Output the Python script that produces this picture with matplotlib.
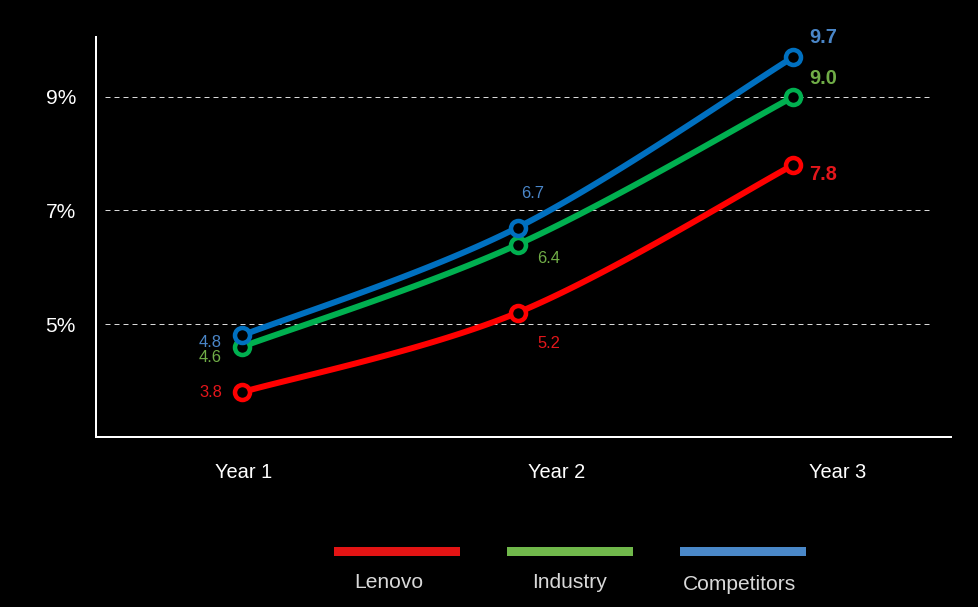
import numpy as np
import matplotlib
matplotlib.use("Agg")
import matplotlib.pyplot as plt
from matplotlib.patches import Rectangle

plt.rcParams['font.family'] = ['Liberation Sans', 'DejaVu Sans']

# ---------------- data ----------------
years = ["Year 1", "Year 2", "Year 3"]
lenovo = [3.8, 5.2, 7.8]
industry = [4.6, 6.4, 9.0]
competitors = [4.8, 6.7, 9.7]
series_names = ["Lenovo", "Industry", "Competitors"]
yticks = [5, 7, 9]
ytick_labels = ["5%", "7%", "9%"]

# ---------------- styles ----------------
line_colors = ["#FF0000", "#00B050", "#0070C0"]
label_colors = ["#E3161B", "#70AD47", "#4A86C8"]
legend_colors = ["#E31414", "#70B84B", "#4A88C8"]
text_gray = "#D9D9D9"
# label offsets in points (dpi=72 -> px) per series per point
offsets = [
    [(-31, 0), (31, -31), (30, -9)],
    [(-32, -11), (31, -14), (30, 18)],
    [(-32, -7), (15, 34), (30, 20)],
]

W, H = 978, 607
fig = plt.figure(figsize=(W / 72, H / 72), dpi=72, facecolor="black")
ax = fig.add_axes([96 / W, (H - 437) / H, (951 - 96) / W, (437 - 37) / H])
ax.set_facecolor("black")

x = np.arange(len(years))


def catmull_rom(xs, ys, n=60):
    pts = np.column_stack([xs, ys]).astype(float)
    p = np.vstack([pts[0], pts, pts[-1]])
    out = []
    for i in range(1, len(p) - 2):
        p0, p1, p2, p3 = p[i - 1], p[i], p[i + 1], p[i + 2]
        t = np.linspace(0, 1, n)[:, None]
        seg = 0.5 * ((2 * p1) + (-p0 + p2) * t + (2 * p0 - 5 * p1 + 4 * p2 - p3) * t ** 2
                     + (-p0 + 3 * p1 - 3 * p2 + p3) * t ** 3)
        out.append(seg)
    out = np.vstack(out)
    return out[:, 0], out[:, 1]


# gridlines
ax.hlines(yticks, -0.5, 2.51, colors=text_gray, linestyles=(0, (5, 4)), linewidth=1, zorder=1)

all_series = [lenovo, industry, competitors]
for k, vals in enumerate(all_series):
    sx, sy = catmull_rom(x, vals)
    ax.plot(sx, sy, color=line_colors[k], linewidth=6, solid_capstyle="round", zorder=3 + k)
    ax.plot(x, vals, linestyle="none", marker="o", markersize=15, markeredgewidth=4.5,
            markerfacecolor="black", markeredgecolor=line_colors[k], zorder=3 + k)
    for j, v in enumerate(vals):
        last = j == len(vals) - 1
        ax.annotate(f"{v:.1f}", (x[j], v), xytext=offsets[k][j], textcoords="offset points",
                    ha="center", va="center", color=label_colors[k],
                    fontsize=20 if last else 16.5, fontweight="bold" if last else "normal",
                    zorder=10)

ax.set_xlim(-0.531, 2.574)
ax.set_ylim(3.009, 10.057)

for s in ["top", "right"]:
    ax.spines[s].set_visible(False)
for s in ["left", "bottom"]:
    ax.spines[s].set_color("white")
    ax.spines[s].set_linewidth(2)

ax.set_yticks(yticks)
ax.set_yticklabels(ytick_labels, fontsize=21, color="white")
ax.tick_params(axis="y", length=0, pad=20)
ax.set_xticks([])

# category labels (shifted as in reference)
year_shift = [1, 39, 45]
for j, name in enumerate(years):
    ax.annotate(name, (x[j], 3.009), xytext=(year_shift[j], -36), textcoords="offset points",
                ha="center", va="center", fontsize=20, color="white", annotation_clip=False)

# legend
bars = [(334, 460), (507, 633), (680, 806)]
label_pos = [(389, 582), (569, 583), (740, 584)]
for k, name in enumerate(series_names):
    x0, x1 = bars[k]
    fig.add_artist(Rectangle((x0 / W, (H - 556) / H), (x1 - x0) / W, 9 / H,
                             transform=fig.transFigure, color=legend_colors[k], lw=0))
    lx, ly = label_pos[k]
    fig.text(lx / W, (H - ly) / H, name, ha="center", va="center", fontsize=21, color=text_gray)

fig.savefig("out.png", dpi=72, facecolor="black")
